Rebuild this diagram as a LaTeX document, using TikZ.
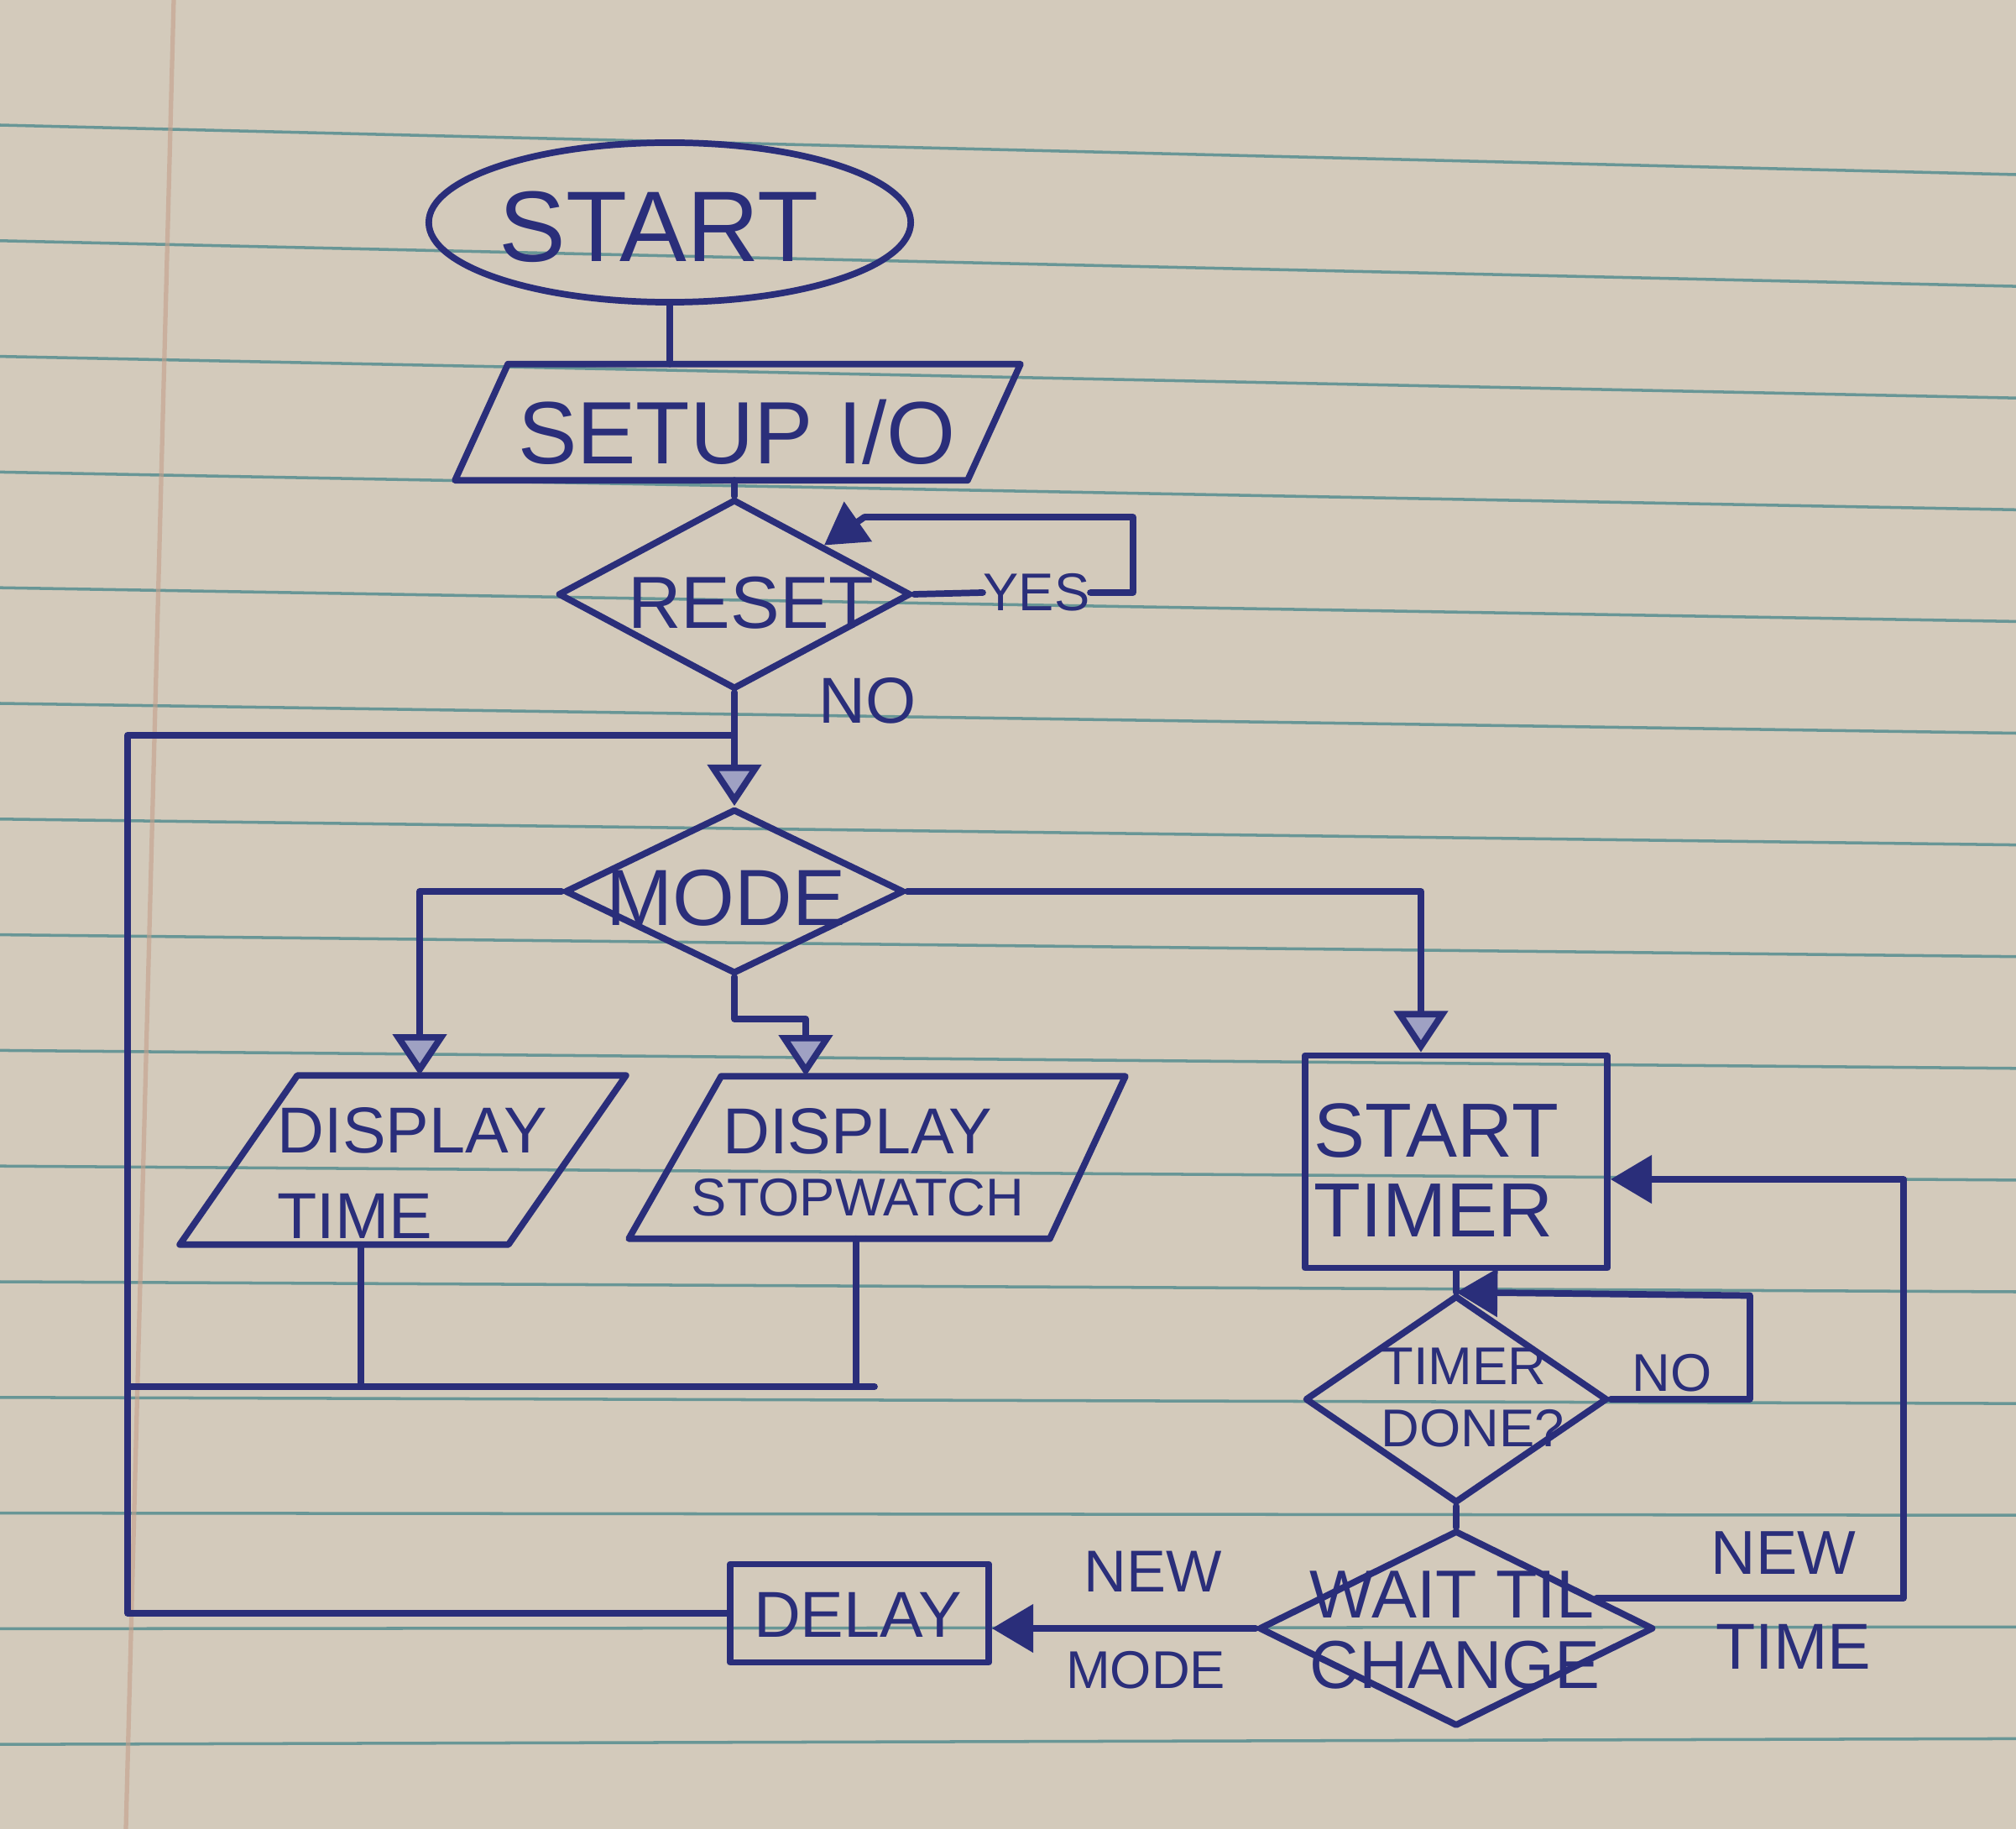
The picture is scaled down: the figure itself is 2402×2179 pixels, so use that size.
\documentclass[tikz,border=0pt]{standalone}
\usepackage{fontspec}
\setmainfont{Liberation Sans}
\usetikzlibrary{shapes.geometric,arrows.meta,calc}
\definecolor{ink}{RGB}{42,46,122}
\definecolor{paper}{RGB}{211,202,187}
\definecolor{rulecol}{RGB}{104,150,150}
\definecolor{margincol}{RGB}{196,160,140}
\begin{document}
\begin{tikzpicture}[x=0.01cm,y=-0.01cm,
  pen/.style={draw=ink, line width=2.2pt, line join=round, line cap=round},
  conn/.style={pen},
  flow/.style={pen, -{Triangle[length=14pt,width=18pt,fill=ink!45]}},
  flowf/.style={pen, -{Triangle[length=14pt,width=16pt]}},
  txt/.style={text=ink, align=center, inner sep=0pt},
  ltxt/.style={text=ink, align=left, inner sep=0pt, anchor=west},
  fs/.style 2 args={font=\fontsize{#1}{#2}\selectfont},
  startsh/.style={pen, ellipse, inner sep=0pt},
  boxsh/.style={pen, rectangle, inner sep=0pt},
  diash/.style={pen, diamond, inner sep=0pt},
  iobox/.style={rectangle, draw=none, inner sep=0pt},
  rulel/.style={draw=rulecol, line width=1pt}
]
\useasboundingbox (0,0) rectangle (2402,2179);
\fill[paper] (0,0) rectangle (2402,2179);
\foreach \i in {0,...,14} {
  \draw[rulel] (0,{149+137.8*\i}) -- (2402,{208+133.1*\i});
}
\draw[draw=margincol, line width=1.5pt, opacity=0.6] (207,0) -- (150,2179);

% ---------- shapes ----------
\node[startsh, minimum width=5.74cm, minimum height=1.9cm] (start) at (798,265) {};
\node[txt, fs={34}{40}] (startt) at (785,270) {START};

\node[iobox, minimum width=6.72cm, minimum height=1.37cm] (setup) at (879,503) {};
\draw[pen] ([xshift=0.63cm]setup.north west) -- (setup.north east)
  -- ([xshift=-0.63cm]setup.south east) -- (setup.south west) -- cycle;
\node[txt, fs={30}{34}] (setupt) at (878,515) {SETUP I/O};

\node[diash, minimum width=4.2cm, minimum height=2.26cm] (reset) at (875,708) {};
\node[txt, fs={25}{28}] (resett) at (895,718) {RESET};

\node[diash, minimum width=4.04cm, minimum height=1.96cm] (mode) at (875,1062) {};
\node[txt, fs={27}{30}] (modet) at (865,1070) {MODE};

\node[iobox, minimum width=5.3cm, minimum height=2.0cm] (dtime) at (480,1382) {};
\draw[pen] ([xshift=1.4cm]dtime.north west) -- (dtime.north east)
  -- ([xshift=-1.4cm]dtime.south east) -- (dtime.south west) -- cycle;
\node[ltxt, fs={22}{29}] (dtimet) at (330,1397) {DISPLAY\\TIME};

\node[iobox, minimum width=5.9cm, minimum height=1.92cm] (dstop) at (1045,1379) {};
\draw[pen] ([xshift=1.1cm]dstop.north west) -- (dstop.north east)
  -- ([xshift=-0.9cm]dstop.south east) -- (dstop.south west) -- cycle;
\node[txt, fs={18}{21}] (dstopt) at (1022,1385) {{\fontsize{22}{21}\selectfont DISPLAY}\\STOPWATCH};

\node[boxsh, minimum width=3.6cm, minimum height=2.53cm] (stimer) at (1735,1384) {};
\node[ltxt, fs={26}{27}] (stimert) at (1565,1394) {START\\TIMER};

\node[diash, minimum width=3.6cm, minimum height=2.47cm] (tdone) at (1735,1667) {};
\node[ltxt, fs={18}{21}] (tdonet) at (1645,1665) {TIMER\\DONE?};

\node[diash, minimum width=4.7cm, minimum height=2.33cm] (wait) at (1735,1940) {};
\node[ltxt, fs={23}{24}] (waitt) at (1560,1942) {WAIT TIL\\CHANGE};

\node[boxsh, minimum width=3.08cm, minimum height=1.17cm] (delay) at (1024,1922) {};
\node[txt, fs={22}{26}] (delayt) at (1022,1924) {DELAY};

% ---------- labels ----------
\node[txt, fs={18}{20}] (yes) at (1235,706) {YES};
\node[txt, fs={22}{24}] (noR) at (1034,835) {NO};
\node[txt, fs={18}{20}] (noT) at (1992,1636) {NO};
\node[txt, fs={20}{22}] (newM) at (1374,1872) {NEW};
\node[txt, fs={18}{20}] (modeL) at (1365,1990) {MODE};
\node[txt, fs={21}{23}] (newT) at (2125,1850) {NEW};
\node[txt, fs={22}{24}] (timeL) at (2137,1962) {TIME};

% ---------- coordinates ----------
\coordinate (yesR) at (1350,616);
\coordinate (yesL) at (1030,616);
\coordinate (j1) at (875,876);
\coordinate (lt) at (152,876);
\coordinate (busL) at (152,1652);
\coordinate (busR) at (1042,1652);
\coordinate (dtOut) at ([xshift=-0.5cm]dtime.south);
\coordinate (dsOut) at ([xshift=-0.25cm]dstop.south);
\coordinate (dtIn) at ([xshift=0.2cm]dtime.north);
\coordinate (dsIn) at ([xshift=-0.85cm]dstop.north);
\coordinate (mj) at ([yshift=-0.5cm]mode.south);
\coordinate (stIn) at ([xshift=-0.42cm]stimer.north);
\coordinate (noC) at (2085,1543.5);
\coordinate (wNE) at ($(wait.north)!0.7!(wait.east)$);
\coordinate (ntR) at (2268,1405);

% ---------- connectors ----------
\draw[conn] (start.south) -- (start.south |- setup.north);
\draw[conn] (setup.south -| reset.north) -- (reset.north);
\draw[conn] (reset.east) -- (yes.west);
\draw[flowf] (yes.east) -- (yesR |- yes.east) -- (yesR) -- (yesL) -- (reset.north east);
\draw[flow] (reset.south) -- (mode.north);
\draw[conn] (delay.west) -- (delay.west -| lt) -- (lt) -- (j1);
\draw[conn] (busL) -- (busR);
\draw[conn] (dtOut) -- (dtOut |- busL);
\draw[conn] (dsOut) -- (dsOut |- busR);
\draw[flow] (mode.west) -| (dtIn);
\draw[flow] (mode.south) -- (mj) -| (dsIn);
\draw[flow] (mode.east) -| (stIn);
\draw[conn] (stimer.south) -- (tdone.north);
\draw[flowf] (tdone.east) -| (noC) -- (tdone.north);
\draw[conn] (tdone.south) -- (wait.north);
\draw[flowf] (wNE) -- (wNE -| ntR) -- (ntR) -- (stimer.east |- ntR);
\draw[flowf] (wait.west) -- (wait.west -| delay.east);
\end{tikzpicture}
\end{document}
